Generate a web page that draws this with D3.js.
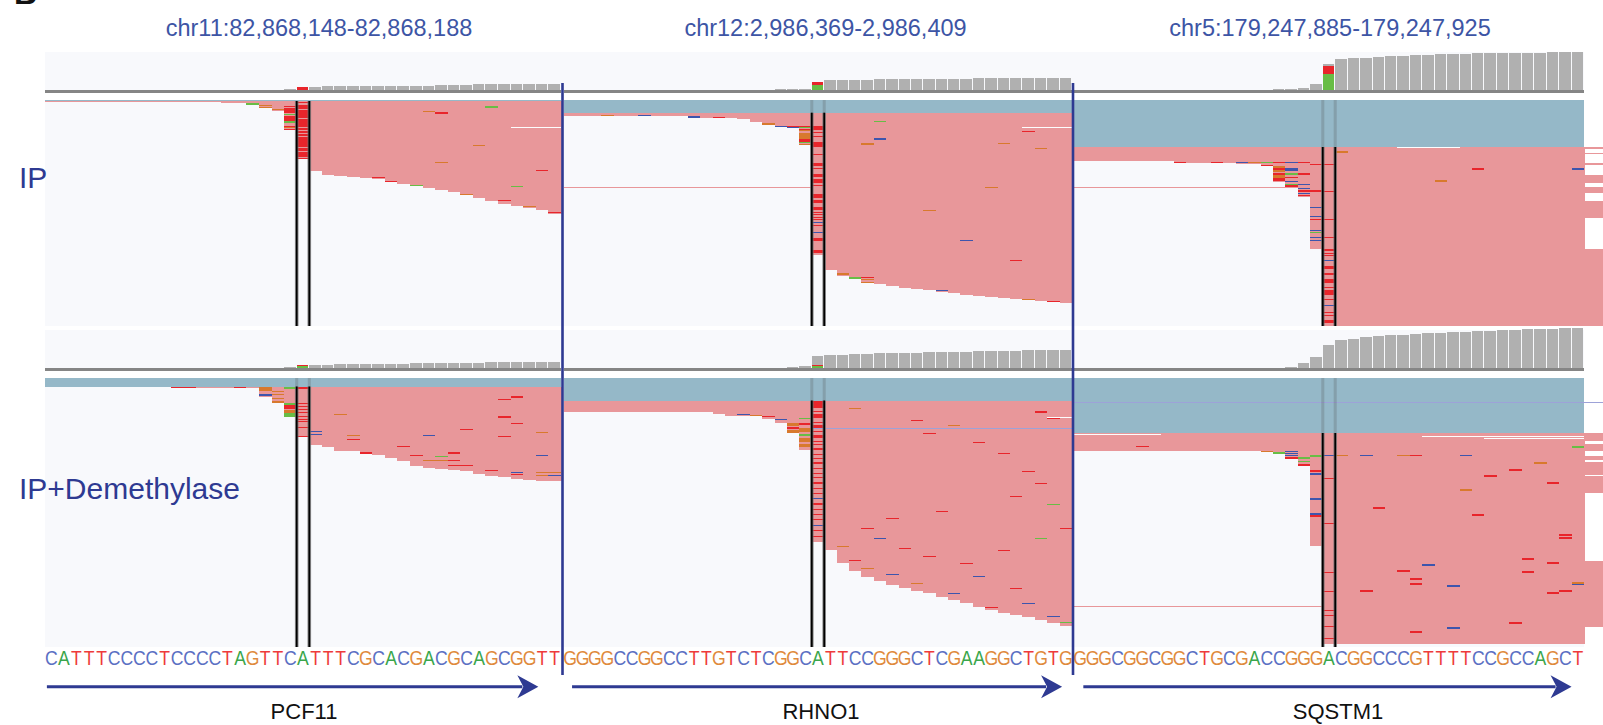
<!DOCTYPE html>
<html>
<head>
<meta charset="utf-8">
<script src="https://d3js.org/d3.v7.min.js"></script>
<style>
  html, body { margin: 0; padding: 0; background: #fff; }
  svg { display: block; font-family: "Liberation Sans", Arial, sans-serif; }
</style>
</head>
<body>
<svg id="chart" width="1603" height="725"></svg>
<script>
/* IGV-style m6A read pileups for three loci, drawn with D3 v7 */

// ── Data ────────────────────────────────────────────────────────────────
var titles    = ["chr11:82,868,148-82,868,188", "chr12:2,986,369-2,986,409", "chr5:179,247,885-179,247,925"];
var sequences = ["CATTTCCCCTCCCCTAGTTCATTTCGCACGACGCAGCGGTT",
                 "GGGGCCGGCCTTGTCTCGGCATTCCGGGCTCGAAGGCTGTG",
                 "GGGCGGCGGCTGCGACCGGGACGGCCCGTTTTCCGCCAGCT"];
var genes      = ["PCF11", "RHNO1", "SQSTM1"];
var trackNames = ["IP", "IP+Demethylase"];
var CENTRE = 20;   // index of the highlighted base in each 41-base window

// coverage per base (track units, 0-40)
var covIP = [
  [0,0,0,0,0, 0,0,0,0,0, 0,0,0,0,0, 0,0,0,0, 0.7, 2.7, 2.7, 4,4,4,4,4,4, 4.3,4.3,4.3, 5,5,5, 6,6,6,6,6,6,6],
  [0,0,0,0,0, 0,0,0,0,0, 0,0,0,0,0, 0,0, 0.7,1.3,1.3, 8.3, 10,10,10,10, 11,11,11,11,11,11,11,11, 12.5,12.5,12.5,12.5,12.5,12.5,12.5,12.5],
  [0,0,0,0,0, 0,0,0,0,0, 0,0,0,0,0, 0, 0.7,0.7,1.7,6, 26, 31,32,32,33,34.3,34.3,35.3,35.3,36,36,36, 37.3,37.3,37.3,37.3,37.3,37.3, 38,38,38]
];
var covDM = [
  [0,0,0,0,0, 0,0,0,0,0, 0,0,0,0,0, 0,0,0, 0.7,1.7, 3.7, 3.7,3.7, 4.7,4.7,4.7,4.7,4.7,4.7, 5.7,5.7,5.7,5.7,5.7,5.7, 6.7,6.7,6.7,6.7,6.7,6.7],
  [0,0,0,0,0, 0,0,0,0,0, 0,0,0,0,0, 0,0, 0.8,1.5,2, 12.3, 13,13.5,14,14.5,15,15,15.5,15.5,16,16,16.5,16.5,17,17,17.5,17.5,18,18,18.4,18.4],
  [0,0,0,0,0, 0,0,0,0,0, 0,0,0,0,0, 0, 0.7,1.5,5,11, 23.5, 28,29.5,31,32,33,33.5,34.5,35,35.5,36,36.5,37,37.5,38,38.5,39,39.3,39.6,40,40]
];
// centre-base allele split, bottom to top: [A, T, reference]
var centreIP = [[0, 2.7, 0], [5, 3.3, 0], [16, 8, 2]];
var centreDM = [[2.4, 1.3, 0], [2, 1.3, 9], [0, 0, 23.5]];

// read pile: rows of full-window (blue) reads, then cumulative read depth per base
var blueIP  = [1, 12.7, 47];
var depthIP = [
  [2,2,2,2,2, 2,2,2,2,2, 2,2,2,2, 2.7,3,5,8,11,30, 59, 71,75,76,77,78,79,82,84,86,88,90,92,95,98,101,104,106,108,110,114],
  [15.5,15.5,15.5,15.5,15.5, 16,16,16,16,16, 17.5,17.5,17.5,17.5, 19,22.3,24.3,26.7,27.7,45, 155,
   170,175.7,177.7,182.3,184,186,188,189,190,192,193,195,196,197,198,199,200,201,202,203],
  [61,61,61,61,61,61,61,61, 63,63,63,63,63, 63.5,63.5,66,82,87,97,149,
   226,226,226,226,226,226,226,226,226,226,226,226,226,226,226,226,226,226,226,226,226]
];
var blueDM  = [8.5, 22.5, 55];
var depthDM = [
  [8.5,8.5,8.5,8.5,8.5,8.5,8.5,8.5,8.5,8.5, 9.7,9.7,9.7,9.7,9.7,9.7, 10.3,18.7,24.7,39, 59,
   67,68.7,72.7,73,76,77,80,83,88,89.7,91,92,92.7,96,97.7,99,101,102,103,103],
  [34,34,34,34,34,34,34,34,34,34,34,34, 36,38,38,38,41,45,55,72, 164,
   172,185,193,199,203,207,210,213,215,219,222,225,229,232,235,237,239,242,245,248],
  [73,73,73,73,73,73,73,73,73,73,73,73,73,73,73, 73.7,75.7,81,88,167.7,
   266,266,266,266,266,266,266,266,266,266,266,266,266,266,266,266,266,266,266,266,266]
];

// single reads, gaps and coloured reads: [panel, track, fromBase, toBase, rowTop, rowBottom, kind]
var extraReads = [
  [1,0, 0,20, 87,88.3,"read"], [2,0, 0,19.5, 87,88.3,"read"],
  [2,0, 41,42.6, 47,49,"read"], [2,0, 41,42.6, 52.7,54.3,"read"], [2,0, 41,42.6, 63,65.3,"read"],
  [2,0, 41,42.6, 75,82.7,"read"], [2,0, 41,42.6, 86.7,93.3,"read"], [2,0, 41,42.6, 101,118,"read"],
  [2,0, 41,42.6, 148.7,226,"read"],
  [2,0, 26,31, 47,48,"gap"], [0,0, 37,41, 27.3,28.3,"gap"], [1,0, 37,41, 27.3,28.3,"gap"],
  [2,1, 0,20, 228,229.3,"read"],
  [1,1, 19,41, 50,51.2,"lav"], [2,1, 0,42.6, 24,25.2,"lav"],
  [2,1, 0,7, 56,57,"gap"], [2,1, 28,41, 57.5,58.5,"gap"], [2,1, 33,41, 60,61,"gap"], [1,1, 39,41, 39,40,"gap"],
  [2,1, 41,42.6, 55,63,"read"], [2,1, 41,42.6, 66,73,"read"], [2,1, 41,42.6, 78,82,"read"],
  [2,1, 41,42.6, 84,97,"read"], [2,1, 41,42.6, 98,115,"read"], [2,1, 41,42.6, 183,249,"read"]
];

// mismatches: [panel, base, row, readBase, rowHeight]
var mmIP = [
  [0,16,3.3,"A",1.5],[0,17,5,"G",0.8],[0,17,7,"G",0.8],[0,18,8.5,"G",0.8],
  [0,19,6,"T",0.8],[0,19,8,"T",4.7],[0,19,14,"A",0.8],[0,19,16,"T",4.7],[0,19,21.3,"A",1.4],[0,19,26,"T",0.8],[0,19,27.3,"G",0.7],[0,19,29,"T",0.8],
  [0,20,2,"T",1],[0,20,5,"T",4],[0,20,10,"T",7.7],[0,20,19,"T",7.7],[0,20,27.7,"T",2.3],[0,20,31,"T",2],[0,20,34,"T",2],[0,20,37,"T",9.7],[0,20,48,"T",2.7],[0,20,51.7,"T",5.6],[0,20,58.3,"T",0.7],
  [0,30,11,"G"],[0,31,12.3,"T"],[0,35,6.3,"A"],
  [0,26,77,"T"],[0,27,80.5,"T"],[0,29,84.5,"A"],[0,31,62,"G"],[0,33,93.5,"G"],[0,34,45,"G"],[0,36,100,"T"],[0,37,86,"A"],[0,38,106,"G"],[0,39,70,"T"],[0,40,112,"T"],

  [1,3,14.5,"G"],[1,6,15.2,"C"],[1,10,16.3,"C"],[1,12,16.5,"T"],
  [1,16,23.3,"G",1.3],[1,17,26,"C",1],[1,18,26.3,"T",0.8],[1,18,27.1,"C",0.6],
  [1,19,26,"T",1],[1,19,27.3,"A",1],[1,19,28.7,"T",1],[1,19,30,"G",1],[1,19,33.3,"G",5.4],[1,19,39.3,"T",2.4],[1,19,42,"A",1.3],[1,19,44,"G",0.8],
  [1,20,26,"T",4],[1,20,31.7,"T",1.6],[1,20,35.7,"T",1],[1,20,41.7,"T",5],[1,20,54,"T",1],[1,20,62.7,"T",3.3],[1,20,68,"T",1],[1,20,74,"T",2.7],
  [1,20,79.3,"T",4],[1,20,85,"T",1],[1,20,94.3,"T",4],[1,20,100,"T",3.3],[1,20,106.7,"T",3.3],[1,20,111.7,"T",1],[1,20,114,"T",1],[1,20,116.7,"T",1],
  [1,20,119.3,"T",1],[1,20,122,"C",1],[1,20,125,"T",1],[1,20,132.3,"C",1],[1,20,138,"T",2.7],[1,20,150,"T",3.3],
  [1,24,43.3,"G"],[1,25,38.3,"C"],[1,25,20.6,"A"],[1,34,87,"G"],[1,35,43,"G"],[1,37,31,"T"],[1,38,48,"G"],[1,29,110,"G"],[1,32,140,"C"],[1,36,160,"T"],
  [1,22,173.3,"G"],[1,23,177.3,"A"],[1,24,177,"T"],[1,24,178.5,"G"],[1,24,182,"G"],[1,30,190,"C"],[1,37,198.5,"G"],[1,39,201,"T"],

  [2,8,61.7,"T"],[2,11,61.7,"T"],[2,13,61.5,"C",1.5],[2,14,61.5,"G",1.5],[2,15,61.5,"A",1.5],[2,16,61.5,"T",1.5],[2,17,61.5,"C",1.5],[2,18,61.5,"T",1.5],
  [2,15,65.3,"T",0.8],
  [2,16,66,"G",1.7],[2,16,68.3,"T",1.7],[2,16,70,"G",2],[2,16,73.3,"T",1.7],[2,16,75,"G",3.3],[2,16,78.3,"T",2.4],
  [2,17,68.3,"C",2.7],[2,17,73.3,"A",1.7],[2,17,76.7,"T",0.8],[2,17,81,"C",0.8],[2,17,84,"A",1],[2,17,85,"T",1.7],
  [2,18,73.3,"T",1.7],[2,18,84,"C",1],[2,18,88,"C",0.8],[2,18,90,"T",2],[2,18,93.3,"C",0.8],[2,18,95,"T",1],
  [2,19,64.3,"T",0.8],[2,19,90,"T",1.7],[2,19,107,"C",0.8],[2,19,116.3,"C",0.8],[2,19,119,"T",0.8],[2,19,129.7,"C",1],[2,19,132,"A",0.8],[2,19,137.3,"C",0.8],[2,19,140.3,"C",0.8],
  [2,20,64.3,"T",0.8],[2,20,90.7,"T",1],[2,20,119.3,"T",0.8],[2,20,137.3,"T",0.8],[2,20,149,"T",2],[2,20,152.5,"T",1],[2,20,155,"T",1],[2,20,160,"C",0.8],
  [2,20,166,"T",2.5],[2,20,173,"T",2],[2,20,179,"T",4],[2,20,186.7,"T",1],[2,20,190,"T",5],[2,20,199,"T",1],[2,20,205,"C",0.8],[2,20,211.7,"T",1],[2,20,215,"T",1],[2,20,220,"T",3.3],
  [2,21,51.3,"G"],[2,32,68.3,"T"],[2,29,80.3,"G"],[2,40,68.3,"C"]
];
var mmDM = [
  [0,10,9,"T"],[0,11,9,"T"],[0,15,9,"T"],
  [0,17,9.3,"G"],[0,17,11.3,"G"],[0,17,16.3,"C"],
  [0,18,12.7,"G"],[0,18,16,"G"],[0,18,19.7,"G",1.3],[0,18,22.7,"G",2],
  [0,19,9.3,"A"],[0,19,25.3,"A"],[0,19,27.3,"T",3.4],[0,19,32,"G",2.7],[0,19,35.3,"A",3.4],
  [0,20,9.3,"T"],[0,20,25,"T"],[0,20,28,"T"],[0,20,31,"T"],[0,20,33.7,"T"],[0,20,38,"T"],[0,20,40.7,"T"],[0,20,42.7,"T"],[0,20,48.7,"T"],[0,20,58,"T"],
  [0,21,53,"C"],[0,21,55.5,"C",1.5],
  [0,23,36,"G"],[0,24,57,"G"],[0,24,61,"T"],[0,25,74,"T",2],[0,28,68,"T"],[0,29,77,"T"],[0,30,57,"C"],[0,30,82,"G"],[0,31,82,"G"],[0,31,78,"A"],
  [0,32,73.5,"T",2],[0,32,82,"T"],[0,32,87,"T"],[0,33,51,"T"],[0,33,87,"T"],[0,35,91.7,"T",1.5],[0,36,21,"T"],[0,36,38.3,"T"],[0,36,58,"T"],
  [0,37,17.7,"T",2],[0,37,45,"T"],[0,37,94,"C"],[0,37,96,"T"],[0,39,54,"G"],[0,39,77,"C"],[0,39,94,"G"],[0,40,94,"G"],[0,39,97,"G"],[0,40,97,"C"],

  [1,14,36,"C"],[1,15,36.5,"G"],[1,16,38,"T"],[1,17,41,"C"],
  [1,18,45,"G",3],[1,18,49,"T",2],[1,18,52,"G",3],
  [1,19,40,"A"],[1,19,45,"T",2],[1,19,50,"G",4],[1,19,56,"A",2],[1,19,60,"G",4],[1,19,66,"G",3],
  [1,20,23,"T",7],[1,20,33,"T"],[1,20,36,"T",4],[1,20,44,"T"],[1,20,47,"T",3],[1,20,53,"T"],[1,20,57,"T",3],[1,20,63,"T"],[1,20,66,"T"],[1,20,70,"T",2],
  [1,20,76,"T"],[1,20,80,"T"],[1,20,84,"T",2],[1,20,90,"T"],[1,20,95,"T"],[1,20,99,"T"],[1,20,104,"T",2],[1,20,110,"T"],[1,20,115,"T"],[1,20,120,"C"],
  [1,20,125,"T",2],[1,20,131,"T"],[1,20,136,"T"],[1,20,141,"T"],[1,20,147,"C"],[1,20,152,"T"],[1,20,158,"T"],
  [1,23,30,"G"],[1,28,42,"T"],[1,29,55,"T"],[1,31,47,"G"],[1,33,64,"T"],[1,35,75,"T"],[1,37,93,"T"],[1,38,105,"T"],[1,36,118,"T"],[1,39,126,"A"],
  [1,38,33,"T",1.5],[1,39,40,"T"],[1,30,133,"T"],[1,26,140,"T"],[1,24,150,"T"],[1,25,160,"C"],[1,22,168,"G"],[1,27,170,"T"],[1,29,178,"T"],
  [1,32,185,"T"],[1,35,172,"T"],[1,38,160,"A"],[1,40,150,"T"],[1,33,198,"C"],[1,36,210,"T"],[1,31,215,"C"],[1,37,225,"C"],[1,39,238,"C"],
  [1,40,244,"A"],[1,34,229,"T"],[1,28,205,"G"],[1,26,196,"C"],[1,24,190,"G"],[1,23,182,"T"],

  [2,5,68,"T"],[2,15,73,"G"],[2,16,73.7,"A",2],[2,17,73,"C",0.8],[2,17,75.3,"C",0.8],[2,17,77,"C",0.8],[2,17,79,"T",2],
  [2,18,79.3,"A",1.7],[2,18,83.3,"A",0.8],[2,18,86.3,"T",1.7],
  [2,19,77.3,"A"],[2,19,92,"T",2],[2,19,94.7,"C",0.7],[2,19,96,"C",0.7],[2,19,120.3,"C"],[2,19,135.3,"C"],[2,19,137.3,"T",1.3],
  [2,20,77,"C"],[2,20,100,"T"],[2,20,145,"T"],[2,20,194,"T"],[2,20,213,"T"],[2,20,232,"T"],[2,20,236.7,"T",1.5],[2,20,248,"T"],[2,20,260,"T"],
  [2,21,77,"G"],[2,23,77,"C"],[2,26,77,"G"],[2,27,77,"T"],[2,31,77,"C"],[2,35,91.3,"T"],[2,37,84.3,"G"],[2,33,97,"T",2],[2,38,104.3,"T"],
  [2,31,111.3,"G"],[2,24,129.3,"T"],[2,32,136.3,"T"],[2,39,156.3,"T"],[2,39,159.3,"T"],[2,36,180.3,"T"],[2,38,184.3,"T"],[2,36,193.3,"T"],
  [2,28,186.3,"C"],[2,26,192.3,"T"],[2,27,200.3,"T"],[2,27,205,"T",2],[2,30,207.3,"C"],[2,23,212.3,"T"],[2,38,214.3,"T"],[2,39,212.3,"T"],
  [2,40,204.3,"G"],[2,40,205.5,"C",1.3],[2,35,244.3,"T"],[2,27,253.3,"T"],[2,30,249.3,"C"],[2,40,68.3,"A"]
];

// ── Layout & colours ────────────────────────────────────────────────────
var PANEL_X = [[45, 561], [564, 1072], [1074, 1584]];
var TITLE_X = [319, 825.5, 1330];
var GENE_X  = [304, 821, 1338];
var ARROW_FROM = [0.15, 0.65, 0.75], ARROW_TO = [39.2, 40.2, 40.0];   // in bases
var SEQ_SQUEEZE = 0.86;   // horizontal glyph compression of the reference sequence

var READ = "#e8979a", BAND = "#95b8c8", BG = "#f8f9fc", LAV = "#9da2d8";
var COV = "#b0b0b0", AXIS = "#858585", NAVY = "#2e3a92", TITLE = "#3d55a5";
var MM_COL   = { A: "#68bd45", C: "#3d55ad", G: "#d8792d", T: "#e8252b" };
var BASE_COL = { A: "#3aa64b", C: "#5b70c3", G: "#df8a3c", T: "#ee3b3b" };

var TRACKS = [
  { name: trackNames[0], cov: covIP, centre: centreIP, blue: blueIP, depth: depthIP, mm: mmIP,
    covTop: 51.7, covBase: 90, readY: [100, 326], rows: 226, labelY: 188 },
  { name: trackNames[1], cov: covDM, centre: centreDM, blue: blueDM, depth: depthDM, mm: mmDM,
    covTop: 330, covBase: 368.3, readY: [378, 647], rows: 269, labelY: 499 }
];

var svg = d3.select("#chart");
var xs = PANEL_X.map(function (r) { return d3.scaleLinear().domain([0, 41]).range(r); });
var left = PANEL_X[0][0], right = PANEL_X[2][1];

// ── Panel letter (cropped) and locus titles ─────────────────────────────
svg.append("text").attr("x", 14).attr("y", 4)
  .attr("font-size", "32px").attr("font-weight", "bold").attr("fill", "#111").text("B");

svg.selectAll("text.title").data(titles).join("text")
  .attr("class", "title")
  .attr("x", function (d, i) { return TITLE_X[i]; }).attr("y", 36)
  .attr("text-anchor", "middle").attr("font-size", "23.5px").attr("fill", TITLE)
  .text(function (d) { return d; });

// ── Tracks ──────────────────────────────────────────────────────────────
TRACKS.forEach(function (t, ti) {
  var g = svg.append("g").attr("class", "track").attr("shape-rendering", "crispEdges");
  var yR = d3.scaleLinear().domain([0, t.rows]).range(t.readY);
  var yC = d3.scaleLinear().domain([0, 40]).range([t.covBase, t.covBase - 40]);

  g.append("rect").attr("x", left).attr("y", t.covTop).attr("width", right - left)
    .attr("height", t.covBase - t.covTop).attr("fill", BG);
  g.append("rect").attr("x", left).attr("y", t.readY[0]).attr("width", right - left)
    .attr("height", t.readY[1] - t.readY[0]).attr("fill", BG);

  xs.forEach(function (x, p) {
    var bw = x(1) - x(0);

    // coverage bars
    var bars = t.cov[p].map(function (v, i) { return { b: i, v: v }; })
      .filter(function (d) { return d.v > 0 && d.b !== CENTRE; });
    g.append("g").selectAll("rect").data(bars).join("rect")
      .attr("x", function (d) { return x(d.b); })
      .attr("width", bw - 1)
      .attr("y", function (d) { return yC(d.v); })
      .attr("height", function (d) { return yC(0) - yC(d.v); })
      .attr("fill", COV);

    var acc = 0;
    var segs = [["A", t.centre[p][0]], ["T", t.centre[p][1]], ["R", t.centre[p][2]]].map(function (s) {
      var o = { k: s[0], y0: acc, y1: acc + s[1] }; acc += s[1]; return o;
    }).filter(function (s) { return s.y1 > s.y0; });
    g.append("g").selectAll("rect").data(segs).join("rect")
      .attr("x", x(CENTRE)).attr("width", bw - 1)
      .attr("y", function (d) { return yC(d.y1); })
      .attr("height", function (d) { return yC(d.y0) - yC(d.y1); })
      .attr("fill", function (d) { return d.k === "R" ? COV : MM_COL[d.k]; });

    g.append("rect").attr("x", x(0)).attr("y", yC(0)).attr("width", x(41) - x(0))
      .attr("height", 2.7).attr("fill", AXIS);

    // reads: full-window band, then the staircase pile
    var blue = t.blue[p];
    g.append("rect").attr("x", x(0)).attr("width", x(41) - x(0))
      .attr("y", yR(0)).attr("height", yR(blue) - yR(0)).attr("fill", BAND);

    var pile = t.depth[p].map(function (d, i) { return { b: i, d: d }; })
      .filter(function (d) { return d.d > blue; });
    g.append("g").selectAll("rect").data(pile).join("rect")
      .attr("x", function (d) { return x(d.b); })
      .attr("width", bw + 0.6)
      .attr("y", yR(blue))
      .attr("height", function (d) { return yR(d.d) - yR(blue); })
      .attr("fill", READ);

    var ex = extraReads.filter(function (e) { return e[0] === p && e[1] === ti; });
    g.append("g").selectAll("rect").data(ex).join("rect")
      .attr("x", function (e) { return x(e[2]); })
      .attr("width", function (e) { return x(e[3]) - x(e[2]); })
      .attr("y", function (e) { return yR(e[4]); })
      .attr("height", function (e) { return Math.max(1, yR(e[5]) - yR(e[4])); })
      .attr("fill", function (e) { return e[6] === "read" ? READ : e[6] === "lav" ? LAV : "#fdfdfe"; });

    // mismatches
    var mm = t.mm.filter(function (m) { return m[0] === p; });
    g.append("g").selectAll("rect").data(mm).join("rect")
      .attr("x", function (m) { return x(m[1]); })
      .attr("width", bw)
      .attr("y", function (m) { return yR(m[2]); })
      .attr("height", function (m) { return Math.max(1, yR(m[2] + (m[4] || 1.2)) - yR(m[2])); })
      .attr("fill", function (m) { return MM_COL[m[3]]; });

    // centre-base guide lines
    var lg = svg.append("g");
    [CENTRE, CENTRE + 1].forEach(function (b) {
      var cx = x(b);
      if (blue > 1) {
        lg.append("line").attr("x1", cx).attr("x2", cx).attr("y1", yR(0)).attr("y2", yR(blue))
          .attr("stroke", "#555").attr("stroke-width", 3).attr("stroke-opacity", 0.25);
      }
      lg.append("line").attr("x1", cx).attr("x2", cx).attr("y1", yR(blue)).attr("y2", t.readY[1])
        .attr("stroke", "#6e6e6e").attr("stroke-width", 3.6).attr("stroke-opacity", 0.8);
      lg.append("line").attr("x1", cx).attr("x2", cx).attr("y1", yR(blue)).attr("y2", t.readY[1])
        .attr("stroke", "#000").attr("stroke-width", 1.7);
    });
  });
});

// ── Reference sequence, gene arrows, labels ─────────────────────────────
xs.forEach(function (x, p) {
  var bw = x(1) - x(0);
  var letters = sequences[p].split("").map(function (c, i) { return { c: c, i: i }; });
  var seq = svg.append("text")
    .attr("transform", "translate(0,665) scale(" + SEQ_SQUEEZE + ",1)")
    .attr("font-size", "20.5px")
    .attr("text-anchor", "middle");
  seq.selectAll("tspan").data(letters).join("tspan")
    .attr("x", function (d) { return (x(d.i) + bw / 2) / SEQ_SQUEEZE; })
    .attr("fill", function (d) { return BASE_COL[d.c]; })
    .text(function (d) { return d.c; });

  var x0 = x(ARROW_FROM[p]), x1 = x(ARROW_TO[p]);
  svg.append("line").attr("x1", x0).attr("x2", x1 - 16).attr("y1", 686.7).attr("y2", 686.7)
    .attr("stroke", NAVY).attr("stroke-width", 3);
  svg.append("path")
    .attr("d", "M" + (x1 - 21) + "," + 675.2 + "L" + x1 + "," + 686.7 + "L" + (x1 - 21) + "," + 698.2 + "L" + (x1 - 15) + "," + 686.7 + "Z")
    .attr("fill", NAVY);

  svg.append("text").attr("x", GENE_X[p]).attr("y", 719)
    .attr("text-anchor", "middle").attr("font-size", "22px").attr("fill", "#111")
    .text(genes[p]);
});

// panel dividers
[PANEL_X[0][1] + 1.5, PANEL_X[1][1] + 1].forEach(function (dx) {
  svg.append("rect").attr("x", dx - 1.3).attr("y", 83).attr("width", 2.6).attr("height", 592).attr("fill", NAVY);
});

// row labels
TRACKS.forEach(function (t) {
  svg.append("text").attr("x", 19).attr("y", t.labelY)
    .attr("font-size", "30px").attr("fill", NAVY).text(t.name);
});
</script>
</body>
</html>
